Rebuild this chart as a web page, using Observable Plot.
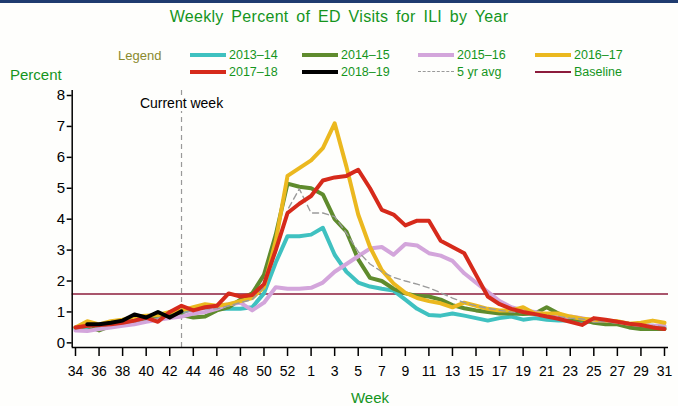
<!DOCTYPE html>
<html>
<head>
<meta charset="utf-8">
<script src="https://cdn.jsdelivr.net/npm/d3@7"></script>
<script src="https://cdn.jsdelivr.net/npm/@observablehq/plot@0.6"></script>
<style>
  html, body { margin: 0; padding: 0; background: #ffffff; }
  #wrap { position: relative; width: 678px; height: 406px; overflow: hidden; background: #fefefc;
          font-family: "Liberation Sans", Arial, sans-serif; }
  #topbar { position: absolute; left: 0; top: 0; width: 678px; height: 3px; background: #1f3b6f; }
  .t { position: absolute; white-space: nowrap; line-height: 16px; }
  #title { left: 0; width: 678px; text-align: center; top: 9px; font-size: 16px; color: #15951c; word-spacing: 3px; letter-spacing: 0.3px; }
  #leglabel { left: 118px; top: 48px; font-size: 13px; color: #8a8a2e; }
  #ylab { left: 10px; top: 67px; font-size: 15px; color: #15951c; }
  #xlab { left: 0; width: 740px; text-align: center; top: 390px; font-size: 15px; color: #15951c; }
  .leg { position: absolute; height: 14px; }
  .leg .sw { position: absolute; left: 0; width: 36px; }
  .leg .lt { position: absolute; left: 39px; top: -8px; font-size: 12.5px; color: #15951c; white-space: nowrap; line-height: 16px; }
  #chart { position: absolute; left: 0; top: 80px; }
</style>
</head>
<body>
<div id="wrap">
  <div id="topbar"></div>
  <div id="title" class="t">Weekly Percent of ED Visits for ILI by Year</div>
  <div id="leglabel" class="t">Legend</div>
  <div id="legend"></div>
  <div id="ylab" class="t">Percent</div>
  <div id="chart"></div>
  <div id="xlab" class="t">Week</div>
</div>
<script>
// MMWR weeks shown on the x axis (season runs week 34 through week 31)
const weeks = [34,35,36,37,38,39,40,41,42,43,44,45,46,47,48,49,50,51,52,53,
               1,2,3,4,5,6,7,8,9,10,11,12,13,14,15,16,17,18,19,20,21,22,23,24,25,26,27,28,29,30,31];
const tickIndex = [0,2,4,6,8,10,12,14,16,18,20,22,24,26,28,30,32,34,36,38,40,42,44,46,48,50];

const s2013_14 = [0.45,0.5,0.55,0.6,0.65,0.72,0.8,0.85,0.9,1.0,1.1,1.15,1.1,1.1,1.1,1.15,1.6,2.6,3.45,3.45,
                  3.5,3.72,2.85,2.3,1.95,1.82,1.75,1.69,1.4,1.1,0.9,0.88,0.95,0.88,0.8,0.72,0.8,0.85,0.75,0.8,
                  0.75,0.72,0.72,0.7,0.68,0.65,0.62,0.6,0.55,0.55,0.5];
const s2014_15 = [0.5,0.55,0.4,0.55,0.6,0.65,0.75,0.8,0.9,0.9,0.82,0.85,1.05,1.15,1.4,1.6,2.2,3.5,5.15,5.05,
                  5.0,4.8,4.0,3.6,2.7,2.1,2.0,1.75,1.6,1.52,1.5,1.4,1.22,1.12,1.05,1.0,0.95,0.95,0.93,0.95,
                  1.15,0.95,0.75,0.75,0.65,0.6,0.6,0.5,0.45,0.45,0.45];
const s2015_16 = [0.4,0.38,0.45,0.5,0.55,0.6,0.68,0.75,0.8,0.85,0.95,1.0,1.1,1.25,1.3,1.05,1.3,1.8,1.75,1.75,
                  1.78,1.95,2.3,2.55,2.8,3.05,3.1,2.85,3.2,3.15,2.9,2.82,2.65,2.25,1.95,1.65,1.35,1.15,1.05,1.0,
                  0.9,0.82,0.85,0.8,0.72,0.72,0.68,0.62,0.58,0.55,0.55];
const s2016_17 = [0.5,0.7,0.6,0.7,0.75,0.85,0.88,0.9,1.0,1.05,1.15,1.25,1.2,1.25,1.35,1.45,1.8,3.3,5.4,5.65,
                  5.9,6.3,7.1,5.7,4.15,3.1,2.35,1.92,1.62,1.45,1.35,1.28,1.15,1.3,1.2,1.1,1.05,1.05,1.15,0.95,
                  0.95,0.95,0.85,0.78,0.75,0.72,0.7,0.62,0.65,0.72,0.65];
const s2017_18 = [0.5,0.55,0.58,0.6,0.65,0.72,0.82,0.68,1.0,1.2,1.05,1.15,1.2,1.6,1.5,1.55,1.9,3.0,4.2,4.5,
                  4.75,5.25,5.35,5.4,5.6,5.0,4.3,4.15,3.8,3.95,3.95,3.3,3.1,2.9,2.2,1.5,1.25,1.1,1.0,0.93,
                  0.85,0.78,0.68,0.58,0.8,0.75,0.68,0.62,0.58,0.5,0.45];
const s2018_19 = [null,0.6,0.6,0.65,0.72,0.92,0.82,1.0,0.82,1.02];
const avg5yr   = [0.45,0.5,0.52,0.58,0.62,0.68,0.75,0.8,0.85,0.95,1.05,1.1,1.1,1.2,1.3,1.4,1.8,2.9,4.3,4.98,
                  4.2,4.2,4.08,3.55,2.95,2.55,2.3,2.12,2.0,1.9,1.78,1.62,1.45,1.3,1.2,1.12,1.05,1.0,0.97,0.94,
                  0.9,0.85,0.8,0.77,0.73,0.68,0.65,0.6,0.58,0.55,0.52];
const baseline = 1.58;
const currentWeekIndex = 9; // week 43
const yTicks = [0,1,2,3,4,5,6,7,8];

const C = {
  "2013\u201314": "#3fc1c0", "2014\u201315": "#5f8b2d", "2015\u201316": "#d3a5db", "2016\u201317": "#ebb81f",
  "2017\u201318": "#d62a1b", "2018\u201319": "#000000", "5 yr avg": "#9a9a9a", "Baseline": "#8c1c3c"
};

const rows = vals => vals.map((v, i) => ({i, v}));
const xDomain = [-0.28, 50.34];
const yDomain = [-0.15, 8];

const seasonLine = (vals, color) => Plot.line(rows(vals), {x: "i", y: "v", stroke: color, strokeWidth: 4,
  strokeLinejoin: "round", strokeLinecap: "round", defined: d => d.v != null});

const chart = Plot.plot({
  width: 678, height: 326,
  marginTop: 15, marginBottom: 59, marginLeft: 71.7, marginRight: 10,
  x: {domain: xDomain, axis: null},
  y: {domain: yDomain, axis: null},
  style: {fontFamily: "'Liberation Sans', Arial, sans-serif", background: "transparent", overflow: "visible"},
  marks: [
    Plot.ruleY([baseline], {stroke: C["Baseline"], strokeWidth: 1.5}),
    Plot.ruleX([currentWeekIndex], {y1: yDomain[0], y2: 8.22, stroke: "#999", strokeWidth: 1.2, strokeDasharray: "5,4"}),
    seasonLine(s2013_14, C["2013\u201314"]),
    seasonLine(s2014_15, C["2014\u201315"]),
    seasonLine(s2015_16, C["2015\u201316"]),
    seasonLine(s2016_17, C["2016\u201317"]),
    Plot.line(rows(avg5yr), {x: "i", y: "v", stroke: C["5 yr avg"], strokeWidth: 1.4, strokeDasharray: "6,4"}),
    seasonLine(s2017_18, C["2017\u201318"]),
    seasonLine(s2018_19, C["2018\u201319"]),
    Plot.ruleX([xDomain[0]], {y1: yDomain[0], y2: 8.16, stroke: "#000", strokeWidth: 1.5}),
    Plot.ruleY([yDomain[0]], {stroke: "#000", strokeWidth: 1.5}),
    Plot.axisY({ticks: yTicks, tickSize: 5, tickPadding: 2, fontSize: 15, stroke: "#000", strokeWidth: 1.5, color: "#000", label: null}),
    Plot.axisX({ticks: tickIndex, tickFormat: i => String(weeks[i]), tickSize: 9, tickPadding: 10, fontSize: 14, strokeWidth: 1.5, label: null}),
    Plot.text(["Current week"], {x: currentWeekIndex, y: 8, dy: 8, fontSize: 14, fill: "#000",
      stroke: "#fefefc", strokeWidth: 6, paintOrder: "stroke"})
  ]
});
document.getElementById("chart").appendChild(chart);

// legend
const legendItems = [
  {name: "2013\u201314", x: 190, y: 55, w: 4},
  {name: "2014\u201315", x: 302, y: 55, w: 4},
  {name: "2015\u201316", x: 418, y: 55, w: 4},
  {name: "2016\u201317", x: 535, y: 55, w: 4},
  {name: "2017\u201318", x: 190, y: 72, w: 4},
  {name: "2018\u201319", x: 302, y: 72, w: 4},
  {name: "5 yr avg", x: 418, y: 72, w: 1.5, dash: true},
  {name: "Baseline", x: 535, y: 72, w: 1.5}
];
const leg = document.getElementById("legend");
for (const it of legendItems) {
  const d = document.createElement("div");
  d.className = "leg";
  d.style.left = it.x + "px"; d.style.top = it.y + "px";
  const sw = document.createElement("div");
  sw.className = "sw";
  sw.style.top = (-it.w / 2) + "px";
  if (it.dash) {
    sw.style.height = "0px";
    sw.style.borderTop = it.w + "px dashed " + C[it.name];
  } else {
    sw.style.height = it.w + "px";
    sw.style.background = C[it.name];
  }
  const t = document.createElement("div");
  t.className = "lt";
  t.textContent = it.name;
  d.appendChild(sw); d.appendChild(t);
  leg.appendChild(d);
}
</script>
</body>
</html>
